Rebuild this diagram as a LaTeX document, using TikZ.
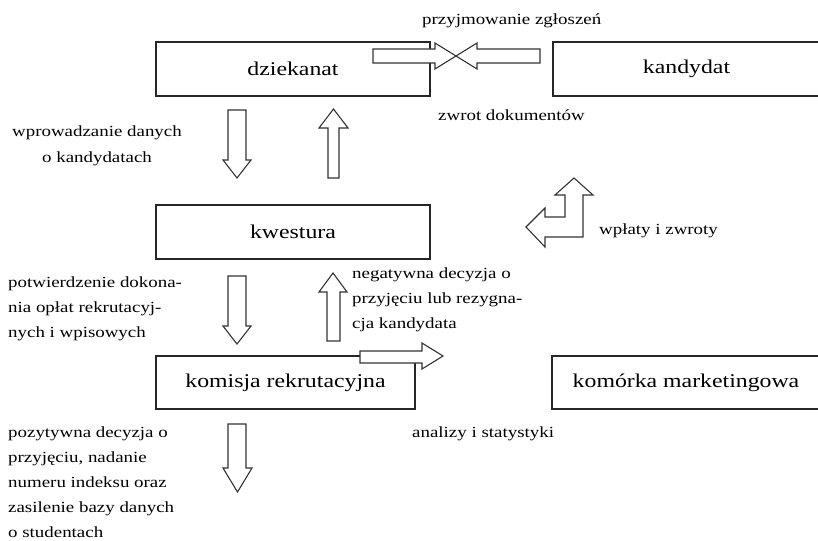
\documentclass[tikz,border=0pt]{standalone}
\usepackage{fontspec}
\setmainfont[FakeStretch=1.22]{Liberation Serif}
\usetikzlibrary{calc}

\tikzset{
  box/.style={draw=black!85, line width=1.2pt, inner sep=0pt,
              font=\fontsize{19.5}{24}\selectfont},
  blockarrow/.style={draw=black!80, fill=white, line width=1.1pt, line join=miter},
  lbl/.style={inner sep=0pt, anchor=base west, align=left,
              font=\fontsize{15.5}{25}\selectfont}
}

\begin{document}
\begin{tikzpicture}[x=1pt,y=-1pt]
  \useasboundingbox (0,0) rectangle (818,540);

  % boxes
  \node[box, minimum width=274, minimum height=54] (dziekanat) at (293,69) {dziekanat};
  \node[box, minimum width=267, minimum height=54] (kandydat) at (686.5,69) {kandydat};
  \node[box, minimum width=274, minimum height=54] (kwestura) at (293,232) {kwestura};
  \node[box, minimum width=259, minimum height=53] (komisja) at (285.5,382.5) {komisja rekrutacyjna};
  \node[box, minimum width=268, minimum height=53] (komorka) at (686,382.5) {komórka marketingowa};

  % dziekanat <-> kandydat
  \draw[blockarrow] (373,49) -- (435,49) -- (435,43) -- (456,56) -- (435,69) -- (435,63) -- (373,63) -- cycle;
  \draw[blockarrow] (540,49) -- (477,49) -- (477,43) -- (456,56) -- (477,69) -- (477,63) -- (540,63) -- cycle;

  % dziekanat <-> kwestura
  \draw[blockarrow] (228,110) -- (246,110) -- (246,160) -- (251,160) -- (237,178) -- (223,160) -- (228,160) -- cycle;
  \draw[blockarrow] (328,178) -- (328,128) -- (319,128) -- (333.5,109) -- (348,128) -- (339,128) -- (339,178) -- cycle;

  % kwestura <-> kandydat
  \draw[blockarrow] (574,178) -- (593,195) -- (583,195) -- (583,237) -- (545,237) -- (545,247)
    -- (526,227) -- (545,208) -- (545,217) -- (565,217) -- (565,195) -- (555,195) -- cycle;

  % kwestura <-> komisja
  \draw[blockarrow] (228,276) -- (246,276) -- (246,326) -- (251,326) -- (237,344) -- (223,326) -- (228,326) -- cycle;
  \draw[blockarrow] (327,341) -- (327,292) -- (319,292) -- (333,273) -- (347,292) -- (340,292) -- (340,341) -- cycle;

  % komisja -> komorka
  \draw[blockarrow] (360,351) -- (422,351) -- (422,343) -- (443,356) -- (422,369) -- (422,363) -- (360,363) -- cycle;

  % komisja -> studenci
  \draw[blockarrow] (228,424) -- (246,424) -- (246,468) -- (252,468) -- (237.5,492) -- (223,468) -- (228,468) -- cycle;

  % labels (base = last line)
  \node[lbl] (l1) at (422,25) {przyjmowanie zgłoszeń};
  \node[lbl] (l2) at (438,121) {zwrot dokumentów};
  \node[lbl, align=center] (l3) at (12,162) {wprowadzanie danych\\o kandydatach};
  \node[lbl] (l4) at (599,234) {wpłaty i zwroty};
  \node[lbl] (l5) at (8,337) {potwierdzenie dokona-\\nia opłat rekrutacyj-\\nych i wpisowych};
  \node[lbl] (l6) at (352,328) {negatywna decyzja o\\przyjęciu lub rezygna-\\cja kandydata};
  \node[lbl] (l7) at (412,437) {analizy i statystyki};
  \node[lbl] (l8) at (8,537) {pozytywna decyzja o\\przyjęciu, nadanie\\numeru indeksu oraz\\zasilenie bazy danych\\o studentach};
\end{tikzpicture}
\end{document}
